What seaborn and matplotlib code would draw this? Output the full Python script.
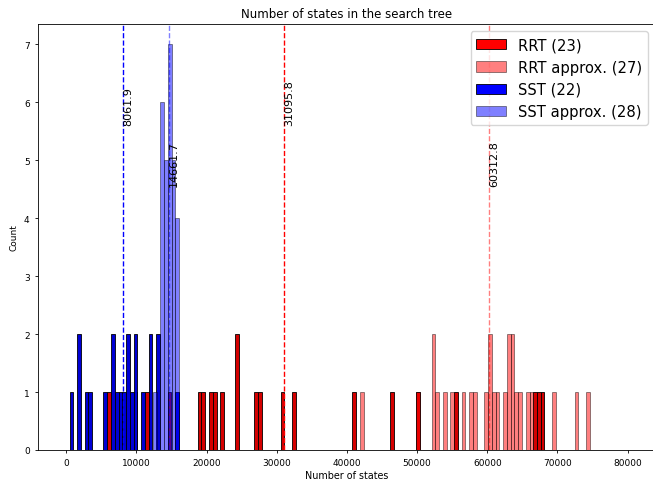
import matplotlib
matplotlib.use("Agg")
import matplotlib.pyplot as plt
import seaborn as sns
import numpy as np
from matplotlib.patches import Patch

# ---- data ----
rrt = [5843, 8800, 9870, 11480, 14700, 19000, 19540, 20610, 21150, 22220,
       24350, 24400, 27050, 27590, 30810, 32420, 41020, 46390, 50150, 55520,
       66790, 67330, 67870]
rrt_approx = [41850, 50170, 52300, 52350, 52860, 53930, 55010, 56620, 57690,
              58230, 59840, 60350, 60400, 60910, 61450, 62520, 63040, 63080,
              63580, 63620, 64140, 64670, 65750, 66280, 69500, 72730, 74340]
sst = [470, 1800, 1850, 2900, 3420, 5600, 6650, 6700, 7200, 7750, 8300, 8800,
       8850, 9350, 9900, 9950, 10980, 12050, 12100, 13100, 13150, 15830]
sst_approx = [12340, 13500, 13600, 13650, 13700, 13750, 13800, 14000, 14100,
              14200, 14300, 14400, 14550, 14650, 14700, 14750, 14800, 14900,
              14950, 15100, 15200, 15300, 15400, 15500, 15650, 15750, 15850,
              15950]
series_names = ["RRT", "RRT approx.", "SST", "SST approx."]
mean_values = [31095.8, 60312.8, 8061.9, 14661.7]
x_ticks = [0, 10000, 20000, 30000, 40000, 50000, 60000, 70000, 80000]
y_ticks = [0, 1, 2, 3, 4, 5, 6, 7]

BIN_W = 537

fig = plt.figure(figsize=(6.53, 4.85), dpi=100)
ax = fig.add_axes([38 / 653, 34 / 485, (655 - 38) / 653, (451 - 25) / 485])

all_series = [rrt, rrt_approx, sst, sst_approx]
colors = ["red", "red", "blue", "blue"]
bar_colors = ["#d40000", "red", "#0000d4", "blue"]
alphas = [1.0, 0.5, 1.0, 0.5]
label_y = [5.6, 4.55, 5.6, 4.55]

handles = []
labels = []
for vals, name, c, bc, a in zip(all_series, series_names, colors, bar_colors, alphas):
    edges = np.arange(min(vals), max(vals) + BIN_W, BIN_W)
    sns.histplot(x=vals, bins=edges, color=bc, alpha=a,
                 edgecolor=(0, 0, 0, a), linewidth=0.6, ax=ax)
    handles.append(Patch(facecolor=c, edgecolor="black", alpha=a, linewidth=0.6))
    labels.append(f"{name} ({len(vals)})")

for m, c, a, ty in zip(mean_values, colors, alphas, label_y):
    ax.axvline(m, color=c, alpha=a, linestyle="--", linewidth=1.0)
    ax.text(m, ty, f"{m:.1f}", rotation=90, fontsize=8, ha="left", va="bottom")

ax.set_xlim(-4030, 83900)
ax.set_ylim(0, 7.35)
ax.set_xticks(x_ticks)
ax.set_yticks(y_ticks)
ax.tick_params(labelsize=6.5, length=2.5, width=0.6)
for s in ax.spines.values():
    s.set_linewidth(0.6)
ax.set_title("Number of states in the search tree", fontsize=8.5, pad=5)
ax.set_xlabel("Number of states", fontsize=6.9, labelpad=2)
ax.set_ylabel("Count", fontsize=6.5, labelpad=4)
ax.legend(handles, labels, loc="upper right", fontsize=10.6, borderaxespad=0.5)

fig.savefig("out.png", dpi=100)
